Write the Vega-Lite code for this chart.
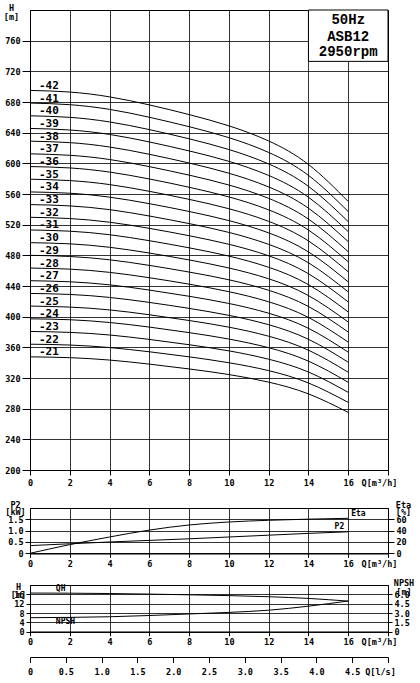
{
  "$schema": "https://vega.github.io/schema/vega-lite/v6.json",
  "background": "white",
  "padding": {"left": 2, "top": 3, "right": 0, "bottom": 0},
  "config": {
    "view": {"stroke": "#000", "strokeWidth": 1},
    "font": "DejaVu Sans Mono",
    "axis": {
      "labelFont": "DejaVu Sans Mono", "labelFontWeight": "bold", "labelFontSize": 8.5, "labelColor": "#000",
      "titleFont": "DejaVu Sans Mono", "titleFontWeight": "bold", "titleFontSize": 8.5, "titleColor": "#000",
      "domainColor": "#000", "tickColor": "#000", "gridColor": "#000", "gridOpacity": 0.8, "gridWidth": 1,
      "labelFlush": false, "labelOverlap": false, "labelBound": false, "tickCount": 60
    }
  },
  "datasets": {
    "curves": [
      {"s":"-21","q":0,"h":347.6},{"s":"-21","q":2,"h":346.5},{"s":"-21","q":4,"h":343.4},{"s":"-21","q":6,"h":338.1},{"s":"-21","q":8,"h":331.8},{"s":"-21","q":10,"h":324.5},{"s":"-21","q":12,"h":314.6},{"s":"-21","q":14,"h":299.3},{"s":"-21","q":16,"h":275.1},
      {"s":"-22","q":0,"h":364.1},{"s":"-22","q":2,"h":363.0},{"s":"-22","q":4,"h":359.7},{"s":"-22","q":6,"h":354.2},{"s":"-22","q":8,"h":347.6},{"s":"-22","q":10,"h":339.9},{"s":"-22","q":12,"h":329.6},{"s":"-22","q":14,"h":313.5},{"s":"-22","q":16,"h":288.2},
      {"s":"-23","q":0,"h":380.7},{"s":"-23","q":2,"h":379.5},{"s":"-23","q":4,"h":376.1},{"s":"-23","q":6,"h":370.3},{"s":"-23","q":8,"h":363.4},{"s":"-23","q":10,"h":355.4},{"s":"-23","q":12,"h":344.5},{"s":"-23","q":14,"h":327.8},{"s":"-23","q":16,"h":301.3},
      {"s":"-24","q":0,"h":397.2},{"s":"-24","q":2,"h":396.0},{"s":"-24","q":4,"h":392.4},{"s":"-24","q":6,"h":386.4},{"s":"-24","q":8,"h":379.2},{"s":"-24","q":10,"h":370.8},{"s":"-24","q":12,"h":359.5},{"s":"-24","q":14,"h":342.0},{"s":"-24","q":16,"h":314.4},
      {"s":"-25","q":0,"h":413.8},{"s":"-25","q":2,"h":412.5},{"s":"-25","q":4,"h":408.8},{"s":"-25","q":6,"h":402.5},{"s":"-25","q":8,"h":395.0},{"s":"-25","q":10,"h":386.3},{"s":"-25","q":12,"h":374.5},{"s":"-25","q":14,"h":356.3},{"s":"-25","q":16,"h":327.5},
      {"s":"-26","q":0,"h":430.3},{"s":"-26","q":2,"h":429.0},{"s":"-26","q":4,"h":425.1},{"s":"-26","q":6,"h":418.6},{"s":"-26","q":8,"h":410.8},{"s":"-26","q":10,"h":401.7},{"s":"-26","q":12,"h":389.5},{"s":"-26","q":14,"h":370.5},{"s":"-26","q":16,"h":340.6},
      {"s":"-27","q":0,"h":446.9},{"s":"-27","q":2,"h":445.5},{"s":"-27","q":4,"h":441.5},{"s":"-27","q":6,"h":434.7},{"s":"-27","q":8,"h":426.6},{"s":"-27","q":10,"h":417.2},{"s":"-27","q":12,"h":404.5},{"s":"-27","q":14,"h":384.8},{"s":"-27","q":16,"h":353.7},
      {"s":"-28","q":0,"h":463.4},{"s":"-28","q":2,"h":462.0},{"s":"-28","q":4,"h":457.8},{"s":"-28","q":6,"h":450.8},{"s":"-28","q":8,"h":442.4},{"s":"-28","q":10,"h":432.6},{"s":"-28","q":12,"h":419.4},{"s":"-28","q":14,"h":399.0},{"s":"-28","q":16,"h":366.8},
      {"s":"-29","q":0,"h":480.0},{"s":"-29","q":2,"h":478.5},{"s":"-29","q":4,"h":474.2},{"s":"-29","q":6,"h":466.9},{"s":"-29","q":8,"h":458.2},{"s":"-29","q":10,"h":448.1},{"s":"-29","q":12,"h":434.4},{"s":"-29","q":14,"h":413.3},{"s":"-29","q":16,"h":379.9},
      {"s":"-30","q":0,"h":496.5},{"s":"-30","q":2,"h":495.0},{"s":"-30","q":4,"h":490.5},{"s":"-30","q":6,"h":483.0},{"s":"-30","q":8,"h":474.0},{"s":"-30","q":10,"h":463.5},{"s":"-30","q":12,"h":449.4},{"s":"-30","q":14,"h":427.5},{"s":"-30","q":16,"h":393.0},
      {"s":"-31","q":0,"h":513.1},{"s":"-31","q":2,"h":511.5},{"s":"-31","q":4,"h":506.9},{"s":"-31","q":6,"h":499.1},{"s":"-31","q":8,"h":489.8},{"s":"-31","q":10,"h":479.0},{"s":"-31","q":12,"h":464.4},{"s":"-31","q":14,"h":441.8},{"s":"-31","q":16,"h":406.1},
      {"s":"-32","q":0,"h":529.6},{"s":"-32","q":2,"h":528.0},{"s":"-32","q":4,"h":523.2},{"s":"-32","q":6,"h":515.2},{"s":"-32","q":8,"h":505.6},{"s":"-32","q":10,"h":494.4},{"s":"-32","q":12,"h":479.4},{"s":"-32","q":14,"h":456.0},{"s":"-32","q":16,"h":419.2},
      {"s":"-33","q":0,"h":546.2},{"s":"-33","q":2,"h":544.5},{"s":"-33","q":4,"h":539.6},{"s":"-33","q":6,"h":531.3},{"s":"-33","q":8,"h":521.4},{"s":"-33","q":10,"h":509.9},{"s":"-33","q":12,"h":494.3},{"s":"-33","q":14,"h":470.3},{"s":"-33","q":16,"h":432.3},
      {"s":"-34","q":0,"h":562.7},{"s":"-34","q":2,"h":561.0},{"s":"-34","q":4,"h":555.9},{"s":"-34","q":6,"h":547.4},{"s":"-34","q":8,"h":537.2},{"s":"-34","q":10,"h":525.3},{"s":"-34","q":12,"h":509.3},{"s":"-34","q":14,"h":484.5},{"s":"-34","q":16,"h":445.4},
      {"s":"-35","q":0,"h":579.3},{"s":"-35","q":2,"h":577.5},{"s":"-35","q":4,"h":572.3},{"s":"-35","q":6,"h":563.5},{"s":"-35","q":8,"h":553.0},{"s":"-35","q":10,"h":540.8},{"s":"-35","q":12,"h":524.3},{"s":"-35","q":14,"h":498.8},{"s":"-35","q":16,"h":458.5},
      {"s":"-36","q":0,"h":595.8},{"s":"-36","q":2,"h":594.0},{"s":"-36","q":4,"h":588.6},{"s":"-36","q":6,"h":579.6},{"s":"-36","q":8,"h":568.8},{"s":"-36","q":10,"h":556.2},{"s":"-36","q":12,"h":539.3},{"s":"-36","q":14,"h":513.0},{"s":"-36","q":16,"h":471.6},
      {"s":"-37","q":0,"h":612.4},{"s":"-37","q":2,"h":610.5},{"s":"-37","q":4,"h":605.0},{"s":"-37","q":6,"h":595.7},{"s":"-37","q":8,"h":584.6},{"s":"-37","q":10,"h":571.7},{"s":"-37","q":12,"h":554.3},{"s":"-37","q":14,"h":527.3},{"s":"-37","q":16,"h":484.7},
      {"s":"-38","q":0,"h":628.9},{"s":"-38","q":2,"h":627.0},{"s":"-38","q":4,"h":621.3},{"s":"-38","q":6,"h":611.8},{"s":"-38","q":8,"h":600.4},{"s":"-38","q":10,"h":587.1},{"s":"-38","q":12,"h":569.2},{"s":"-38","q":14,"h":541.5},{"s":"-38","q":16,"h":497.8},
      {"s":"-39","q":0,"h":645.5},{"s":"-39","q":2,"h":643.5},{"s":"-39","q":4,"h":637.7},{"s":"-39","q":6,"h":627.9},{"s":"-39","q":8,"h":616.2},{"s":"-39","q":10,"h":602.6},{"s":"-39","q":12,"h":584.2},{"s":"-39","q":14,"h":555.8},{"s":"-39","q":16,"h":510.9},
      {"s":"-40","q":0,"h":662.0},{"s":"-40","q":2,"h":660.0},{"s":"-40","q":4,"h":654.0},{"s":"-40","q":6,"h":644.0},{"s":"-40","q":8,"h":632.0},{"s":"-40","q":10,"h":618.0},{"s":"-40","q":12,"h":599.2},{"s":"-40","q":14,"h":570.0},{"s":"-40","q":16,"h":524.0},
      {"s":"-41","q":0,"h":678.6},{"s":"-41","q":2,"h":676.5},{"s":"-41","q":4,"h":670.4},{"s":"-41","q":6,"h":660.1},{"s":"-41","q":8,"h":647.8},{"s":"-41","q":10,"h":633.5},{"s":"-41","q":12,"h":614.2},{"s":"-41","q":14,"h":584.3},{"s":"-41","q":16,"h":537.1},
      {"s":"-42","q":0,"h":695.1},{"s":"-42","q":2,"h":693.0},{"s":"-42","q":4,"h":686.7},{"s":"-42","q":6,"h":676.2},{"s":"-42","q":8,"h":663.6},{"s":"-42","q":10,"h":648.9},{"s":"-42","q":12,"h":629.2},{"s":"-42","q":14,"h":598.5},{"s":"-42","q":16,"h":550.2}
    ],
    "perf": [
      {"q":0,"p2":0.34,"eta":0},{"q":2,"p2":0.42,"eta":15.3},{"q":4,"p2":0.5,"eta":28.8},{"q":6,"p2":0.57,"eta":41},{"q":8,"p2":0.64,"eta":50},
      {"q":10,"p2":0.72,"eta":55.3},{"q":12,"p2":0.8,"eta":58.3},{"q":14,"p2":0.88,"eta":60.3},{"q":16,"p2":0.95,"eta":61.8}
    ],
    "stage": [
      {"q":0,"h":16.55,"npsh":2.25},{"q":2,"h":16.5,"npsh":2.3},{"q":4,"h":16.35,"npsh":2.4},{"q":6,"h":16.1,"npsh":2.6},{"q":8,"h":15.8,"npsh":2.85},
      {"q":10,"h":15.45,"npsh":3.1},{"q":12,"h":14.98,"npsh":3.45},{"q":14,"h":14.25,"npsh":4.1},{"q":16,"h":13.1,"npsh":4.93}
    ]
  },
  "spacing": 0,
  "bounds": "flush",
  "vconcat": [
    {
      "width": 358, "height": 460,
      "layer": [
        {
          "data": {"name": "curves"},
          "mark": {"type": "line", "color": "#000", "strokeWidth": 1, "interpolate": "natural"},
          "encoding": {
            "x": {"field": "q", "type": "quantitative", "scale": {"domain": [0, 18], "nice": false, "zero": false},
              "axis": {"values": [0,2,4,6,8,10,12,14,16,18], "title": null, "grid": true, "tickSize": 5, "labelPadding": 3,
                "labelExpr": "datum.value == 18 ? 'Q[m³/h]' : format(datum.value, 'd')",
                "labelOffset": {"condition": {"test": "datum.value == 18", "value": -9}, "value": 0}}},
            "y": {"field": "h", "type": "quantitative", "scale": {"domain": [200, 800], "nice": false, "zero": false},
              "axis": {"values": [200,240,280,320,360,400,440,480,520,560,600,640,680,720,760], "grid": true, "tickSize": 8, "labelPadding": 2,
                "labelExpr": "format(datum.value, 'd')",
                "title": ["H", "[m]"], "titleAngle": 0, "titleAlign": "center", "titleBaseline": "bottom", "titleX": -19, "titleY": 2.5, "titleLineHeight": 9}},
            "detail": {"field": "s"}
          }
        },
        {
          "data": {"name": "curves"},
          "transform": [{"filter": "datum.q == 0"}],
          "mark": {"type": "text", "align": "left", "baseline": "alphabetic", "dy": -1.5, "font": "DejaVu Sans Mono", "fontWeight": "bold", "fontSize": 11, "color": "#000"},
          "encoding": {
            "x": {"datum": 0.45, "type": "quantitative", "scale": {"domain": [0, 18], "nice": false, "zero": false}},
            "y": {"field": "h", "type": "quantitative"},
            "text": {"field": "s"}
          }
        },
        {
          "data": {"values": [{}]},
          "mark": {"type": "rect", "fill": "white", "stroke": "#000", "strokeWidth": 1},
          "encoding": {
            "x": {"datum": 14, "type": "quantitative"}, "x2": {"datum": 18},
            "y": {"datum": 733, "type": "quantitative"}, "y2": {"datum": 800}
          }
        },
        {
          "data": {"values": [{}]},
          "mark": {"type": "text", "align": "center", "baseline": "middle", "font": "Liberation Mono", "fontWeight": "bold", "fontSize": 14, "color": "#000"},
          "encoding": {"x": {"datum": 16, "type": "quantitative"}, "y": {"datum": 787, "type": "quantitative"}, "text": {"value": "50Hz"}}
        },
        {
          "data": {"values": [{}]},
          "mark": {"type": "text", "align": "center", "baseline": "middle", "font": "Liberation Mono", "fontWeight": "bold", "fontSize": 14, "color": "#000"},
          "encoding": {"x": {"datum": 16, "type": "quantitative"}, "y": {"datum": 765, "type": "quantitative"}, "text": {"value": "ASB12"}}
        },
        {
          "data": {"values": [{}]},
          "mark": {"type": "text", "align": "center", "baseline": "middle", "font": "Liberation Mono", "fontWeight": "bold", "fontSize": 14, "color": "#000"},
          "encoding": {"x": {"datum": 16, "type": "quantitative"}, "y": {"datum": 745.5, "type": "quantitative"}, "text": {"value": "2950rpm"}}
        }
      ]
    },
    {"width": 358, "height": 37.7, "view": {"stroke": null}, "data": {"values": []}, "mark": "point"},
    {
      "width": 358, "height": 45.3,
      "resolve": {"scale": {"y": "independent"}},
      "layer": [
        {
          "data": {"name": "perf"},
          "mark": {"type": "line", "color": "#000", "strokeWidth": 1, "interpolate": "monotone"},
          "encoding": {
            "x": {"field": "q", "type": "quantitative", "scale": {"domain": [0, 18], "nice": false, "zero": false},
              "axis": {"values": [0,2,4,6,8,10,12,14,16,18], "title": null, "grid": true, "tickSize": 4, "labelPadding": 2,
                "labelExpr": "datum.value == 18 ? 'Q[m³/h]' : format(datum.value, 'd')",
                "labelOffset": {"condition": {"test": "datum.value == 18", "value": -9}, "value": 0}}},
            "y": {"field": "p2", "type": "quantitative", "scale": {"domain": [0, 2], "nice": false, "zero": false},
              "axis": {"orient": "left", "values": [0, 0.5, 1, 1.5], "grid": true, "tickSize": 5, "labelPadding": 2,
                "labelExpr": "datum.value == 0 ? '0' : format(datum.value, '.1f')",
                "title": ["P2", "[kW]"], "titleAngle": 0, "titleAlign": "center", "titleBaseline": "bottom", "titleX": -15, "titleY": 1.5, "titleLineHeight": 7}}
          }
        },
        {
          "data": {"name": "perf"},
          "mark": {"type": "line", "color": "#000", "strokeWidth": 1, "interpolate": "monotone"},
          "encoding": {
            "x": {"field": "q", "type": "quantitative", "scale": {"domain": [0, 18], "nice": false, "zero": false}},
            "y": {"field": "eta", "type": "quantitative", "scale": {"domain": [0, 80], "nice": false, "zero": false},
              "axis": {"orient": "right", "values": [0, 20, 40, 60], "grid": false, "tickSize": 6, "labelPadding": 2,
                "labelExpr": "format(datum.value, 'd')",
                "title": ["Eta", "[%]"], "titleAngle": 0, "titleAlign": "center", "titleBaseline": "bottom", "titleX": 15, "titleY": 1, "titleLineHeight": 7}}
          }
        },
        {
          "data": {"values": [{}]},
          "mark": {"type": "text", "align": "left", "baseline": "middle", "font": "DejaVu Sans Mono", "fontWeight": "bold", "fontSize": 8, "color": "#000"},
          "encoding": {
            "x": {"datum": 16.15, "type": "quantitative", "scale": {"domain": [0, 18], "nice": false, "zero": false}},
            "y": {"datum": 69.4, "type": "quantitative", "scale": {"domain": [0, 80], "nice": false, "zero": false}, "axis": null},
            "text": {"value": "Eta"}
          }
        },
        {
          "data": {"values": [{}]},
          "mark": {"type": "text", "align": "right", "baseline": "middle", "font": "DejaVu Sans Mono", "fontWeight": "bold", "fontSize": 8, "color": "#000"},
          "encoding": {
            "x": {"datum": 15.8, "type": "quantitative", "scale": {"domain": [0, 18], "nice": false, "zero": false}},
            "y": {"datum": 1.16, "type": "quantitative", "scale": {"domain": [0, 2], "nice": false, "zero": false}, "axis": null},
            "text": {"value": "P2"}
          }
        }
      ]
    },
    {"width": 358, "height": 31, "view": {"stroke": null}, "data": {"values": []}, "mark": "point"},
    {
      "width": 358, "height": 46.7,
      "resolve": {"scale": {"y": "independent"}},
      "layer": [
        {
          "data": {"name": "stage"},
          "mark": {"type": "line", "color": "#000", "strokeWidth": 1, "interpolate": "natural"},
          "encoding": {
            "x": {"field": "q", "type": "quantitative", "scale": {"domain": [0, 18], "nice": false, "zero": false},
              "axis": {"values": [0,2,4,6,8,10,12,14,16,18], "title": null, "grid": true, "tickSize": 4, "labelPadding": 2,
                "labelExpr": "datum.value == 18 ? 'Q[m³/h]' : format(datum.value, 'd')",
                "labelOffset": {"condition": {"test": "datum.value == 18", "value": -9}, "value": 0}}},
            "y": {"field": "h", "type": "quantitative", "scale": {"domain": [0, 20], "nice": false, "zero": false},
              "axis": {"orient": "left", "values": [0, 4, 8, 12, 16], "grid": true, "tickSize": 4, "labelPadding": 2,
                "labelExpr": "format(datum.value, 'd')",
                "title": ["H", "[m]"], "titleAngle": 0, "titleAlign": "center", "titleBaseline": "bottom", "titleX": -12, "titleY": 6, "titleLineHeight": 8}}
          }
        },
        {
          "data": {"name": "stage"},
          "mark": {"type": "line", "color": "#000", "strokeWidth": 1, "interpolate": "monotone"},
          "encoding": {
            "x": {"field": "q", "type": "quantitative", "scale": {"domain": [0, 18], "nice": false, "zero": false}},
            "y": {"field": "npsh", "type": "quantitative", "scale": {"domain": [0, 7.5], "nice": false, "zero": false},
              "axis": {"orient": "right", "values": [0, 1.5, 3, 4.5, 6], "grid": false, "tickSize": 4, "labelPadding": 2,
                "labelExpr": "datum.value == 0 ? '0' : format(datum.value, '.1f')",
                "title": ["NPSH", "[m]"], "titleAngle": 0, "titleAlign": "center", "titleBaseline": "bottom", "titleX": 15.5, "titleY": 2, "titleLineHeight": 9}}
          }
        },
        {
          "data": {"values": [{}]},
          "mark": {"type": "text", "align": "left", "baseline": "middle", "font": "DejaVu Sans Mono", "fontWeight": "bold", "fontSize": 8, "color": "#000"},
          "encoding": {
            "x": {"datum": 1.3, "type": "quantitative", "scale": {"domain": [0, 18], "nice": false, "zero": false}},
            "y": {"datum": 18.1, "type": "quantitative", "scale": {"domain": [0, 20], "nice": false, "zero": false}, "axis": null},
            "text": {"value": "QH"}
          }
        },
        {
          "data": {"values": [{}]},
          "mark": {"type": "text", "align": "left", "baseline": "middle", "font": "DejaVu Sans Mono", "fontWeight": "bold", "fontSize": 8, "color": "#000"},
          "encoding": {
            "x": {"datum": 1.3, "type": "quantitative", "scale": {"domain": [0, 18], "nice": false, "zero": false}},
            "y": {"datum": 4, "type": "quantitative", "scale": {"domain": [0, 20], "nice": false, "zero": false}, "axis": null},
            "text": {"value": "NPSH"}
          }
        }
      ]
    },
    {
      "width": 358, "height": 25,
      "view": {"stroke": null},
      "data": {"values": [{}]},
      "mark": {"type": "point", "opacity": 0},
      "encoding": {
        "x": {"datum": 0, "type": "quantitative", "scale": {"domain": [0, 5], "nice": false, "zero": false},
          "axis": {"values": [0, 0.5, 1, 1.5, 2, 2.5, 3, 3.5, 4, 4.5, 5], "title": null, "grid": false, "tickSize": 5.5, "labelPadding": 5,
            "labelExpr": "datum.value == 5 ? 'Q[l/s]' : (datum.value == 0 ? '0' : format(datum.value, '.1f'))",
            "labelOffset": {"condition": {"test": "datum.value == 5", "value": -8}, "value": 0}}}
      }
    }
  ]
}
